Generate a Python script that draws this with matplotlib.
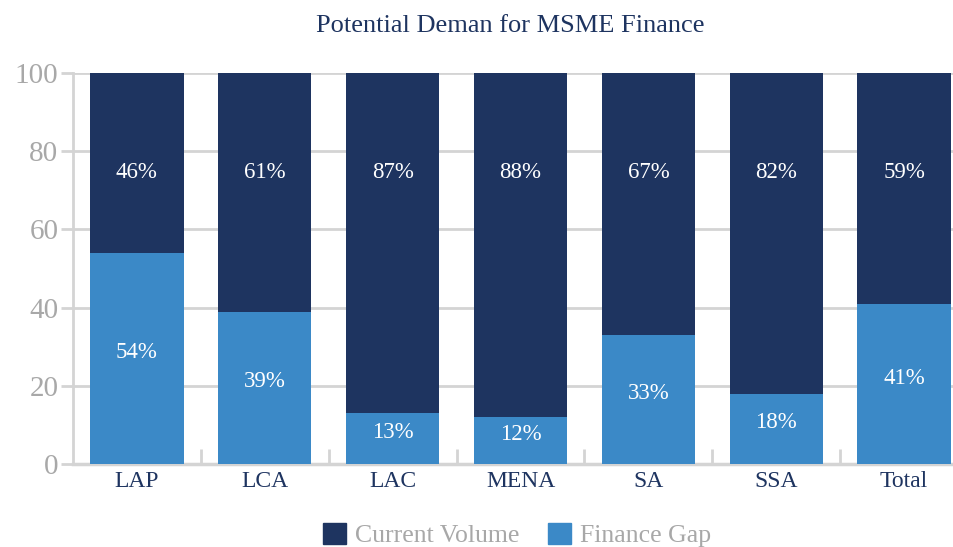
import matplotlib
matplotlib.use("Agg")
import matplotlib.pyplot as plt
from matplotlib.patches import Patch

regions = ["LAP", "LCA", "LAC", "MENA", "SA", "SSA", "Total"]
finance_gap = [54, 39, 13, 12, 33, 18, 41]
current_volume = [46, 61, 87, 88, 67, 82, 59]

navy = "#1e3460"
blue = "#3b89c7"
grid_c = "#d4d4d4"

plt.rcParams["font.family"] = ["Liberation Serif", "DejaVu Serif"]

fig = plt.figure(figsize=(9.54, 5.47), dpi=100)
ax = fig.add_axes([0.0765, 0.1517, 0.9235, 0.7148])

x = list(range(len(regions)))
ax.bar(x, finance_gap, width=0.73, color=blue, zorder=3)
ax.bar(x, current_volume, width=0.73, bottom=finance_gap, color=navy, zorder=3)

for i in x:
    ax.text(i, finance_gap[i] / 2 + 1.5, "%d%%" % finance_gap[i], color="white",
            ha="center", va="center", fontsize=16.5, zorder=4)
    ax.text(i, 74.5, "%d%%" % current_volume[i], color="white",
            ha="center", va="center", fontsize=16.5, zorder=4)

ax.set_xlim(-0.5, 6.39)
ax.set_ylim(0, 100)
ax.set_yticks([0, 20, 40, 60, 80, 100])
ax.yaxis.grid(True, color=grid_c, linewidth=2, zorder=0)
ax.set_axisbelow(True)

ax.set_xticks(x)
ax.set_xticklabels(regions, color=navy, fontsize=17)
ax.tick_params(axis="x", length=0, pad=5)
ax.set_xticks([i + 0.5 for i in x[:-1]], minor=True)
ax.tick_params(axis="x", which="minor", direction="in", length=11, width=2, color=grid_c)
ax.tick_params(axis="y", length=8.5, width=2, color=grid_c, labelcolor="#a8a8a8",
               labelsize=21, pad=2)

for s in ["top", "right"]:
    ax.spines[s].set_visible(False)
ax.spines["left"].set_color(grid_c)
ax.spines["left"].set_linewidth(2)
ax.spines["bottom"].set_color(grid_c)
ax.spines["bottom"].set_linewidth(2.5)

fig.text(0.535, 0.953, "Potential Deman for MSME Finance", ha="center", va="center",
         color=navy, fontsize=19)

handles = [Patch(color=navy, label="Current Volume"), Patch(color=blue, label="Finance Gap")]
leg = fig.legend(handles=handles, loc="center", bbox_to_anchor=(0.542, 0.022), ncol=2,
                 frameon=False, fontsize=18.5, handlelength=0.9, handleheight=0.9,
                 handletextpad=0.35, columnspacing=1.1)
for t in leg.get_texts():
    t.set_color("#a8a8a8")

plt.savefig("out.png", dpi=100)
